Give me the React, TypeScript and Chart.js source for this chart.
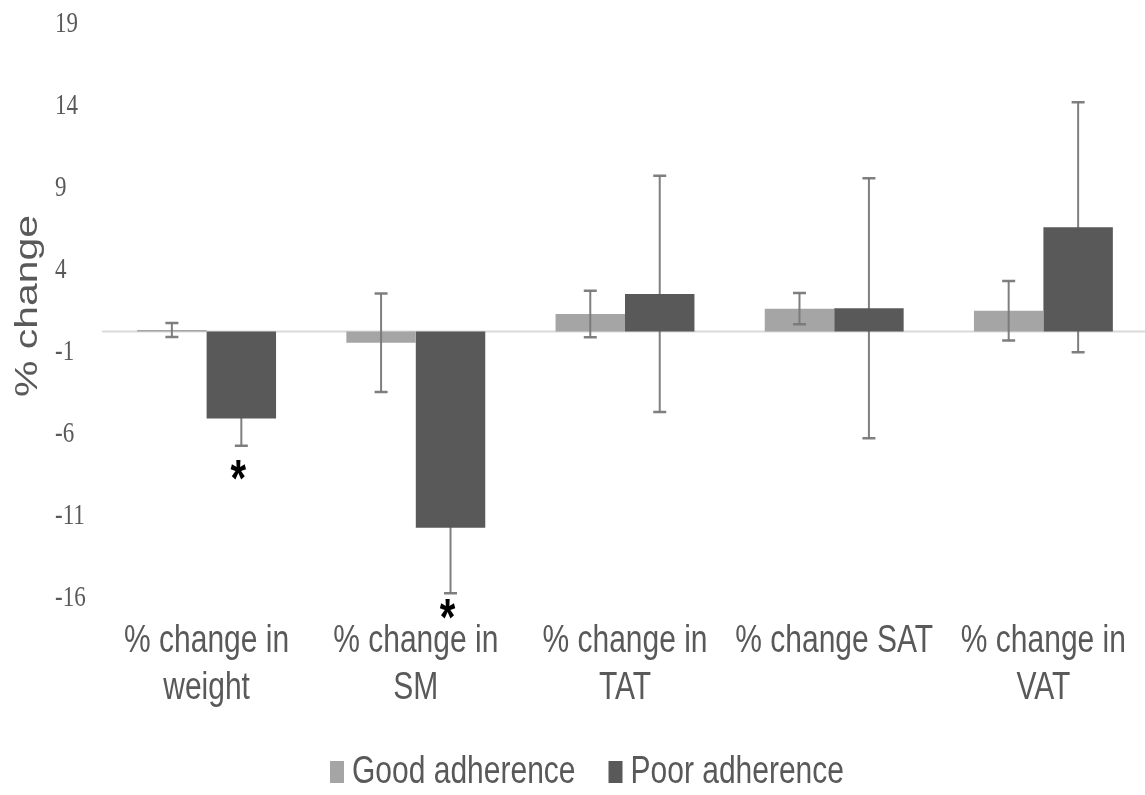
import { useEffect, useRef } from "react";
import { Chart, registerables } from "chart.js";

Chart.register(...registerables);

// Category labels (split into the lines they are drawn on)
const categories: string[][] = [
  ["% change in", "weight"],
  ["% change in", "SM"],
  ["% change in", "TAT"],
  ["% change SAT"],
  ["% change in", "VAT"],
];

// Mean % change per group
const goodAdherence = [0.1, -0.68, 1.07, 1.4, 1.27];
const poorAdherence = [-5.3, -11.96, 2.3, 1.42, 6.36];

// Error bar half-lengths
const goodError = [0.43, 3.0, 1.42, 0.95, 1.82];
const poorError = [1.66, 4.0, 7.2, 7.93, 7.62];

// Y axis tick values
const yTicks = [-16, -11, -6, -1, 4, 9, 14, 19];

// Significance markers (category index, value at which the * sits)
const significance = [
  { index: 0, value: -8.45 },
  { index: 1, value: -16.9 },
];

const seriesNames = ["Good adherence", "Poor adherence"];
const seriesColors = ["#a5a5a5", "#595959"];
const errorSets = [goodError, poorError];

const TEXT = "#595959";
const SY = 1.28; // vertical stretch of the lettering

function drawText(
  ctx: CanvasRenderingContext2D,
  text: string,
  x: number,
  y: number,
  align: CanvasTextAlign
) {
  ctx.save();
  ctx.translate(x, y);
  ctx.scale(1, SY);
  ctx.textAlign = align;
  ctx.textBaseline = "alphabetic";
  ctx.fillText(text, 0, 0);
  ctx.restore();
}

function drawErrorBars(chart: any, di: number) {
  const { ctx, scales } = chart;
  const yS = scales.y;
  const ds = chart.data.datasets[di];
  const meta = chart.getDatasetMeta(di);
  ctx.save();
  ctx.strokeStyle = "rgba(120,120,120,0.95)";
  meta.data.forEach((bar: any, i: number) => {
    const v = ds.data[i];
    const e = errorSets[di][i];
    const x = bar.x;
    const yt = yS.getPixelForValue(v + e);
    const yb = yS.getPixelForValue(v - e);
    ctx.lineWidth = 2;
    ctx.beginPath();
    ctx.moveTo(x, yt);
    ctx.lineTo(x, yb);
    ctx.stroke();
    ctx.lineWidth = 2.5;
    ctx.beginPath();
    ctx.moveTo(x - 6.5, yt);
    ctx.lineTo(x + 6.5, yt);
    ctx.moveTo(x - 6.5, yb);
    ctx.lineTo(x + 6.5, yb);
    ctx.stroke();
  });
  ctx.restore();
}

const decorations = {
  id: "decorations",
  beforeDatasetsDraw(chart: any) {
    const { ctx, chartArea, scales } = chart;
    const y0 = scales.y.getPixelForValue(0);
    ctx.save();
    ctx.strokeStyle = "#d9d9d9";
    ctx.lineWidth = 2;
    ctx.beginPath();
    ctx.moveTo(chartArea.left, y0);
    ctx.lineTo(chartArea.right, y0);
    ctx.stroke();
    ctx.restore();
    // poor-adherence error bars sit behind their bars
    drawErrorBars(chart, 1);
  },
  afterDatasetsDraw(chart: any) {
    drawErrorBars(chart, 0);
  },
  afterDraw(chart: any) {
    const { ctx, chartArea, scales } = chart;
    const yS = scales.y;
    const xS = scales.x;
    ctx.save();
    ctx.fillStyle = TEXT;

    // y tick labels
    ctx.font = "23px 'Liberation Serif'";
    yTicks.forEach((t) => {
      drawText(ctx, String(t), 55, yS.getPixelForValue(t) + 11.5, "left");
    });

    // category labels
    ctx.font = "30px 'Liberation Sans'";
    categories.forEach((lines, i) => {
      const x = xS.getPixelForValue(i);
      lines.forEach((line, li) => {
        drawText(ctx, line, x, chartArea.bottom + 58 + li * 47, "center");
      });
    });

    // y axis title
    ctx.save();
    ctx.font = "32px 'Liberation Sans'";
    ctx.translate(37, 306);
    ctx.scale(1, SY);
    ctx.rotate(-Math.PI / 2);
    ctx.textAlign = "center";
    ctx.textBaseline = "alphabetic";
    ctx.fillText("% change", 0, 0);
    ctx.restore();

    // significance asterisks
    ctx.fillStyle = "#000000";
    ctx.font = "bold 40px 'Liberation Sans'";
    const poorMeta = chart.getDatasetMeta(1);
    significance.forEach((s) => {
      const x = poorMeta.data[s.index].x - 3;
      const y = yS.getPixelForValue(s.value);
      drawText(ctx, "*", x, y + 26, "center");
    });

    // legend
    ctx.font = "30px 'Liberation Sans'";
    let lx = 330;
    const baseY = 783;
    seriesNames.forEach((name, i) => {
      ctx.fillStyle = seriesColors[i];
      ctx.fillRect(lx, baseY - 22, 14, 22);
      lx += 22;
      ctx.fillStyle = TEXT;
      drawText(ctx, name, lx, baseY, "left");
      lx += ctx.measureText(name).width + 33;
    });

    ctx.restore();
  },
};

export default function App() {
  const ref = useRef<HTMLCanvasElement | null>(null);

  useEffect(() => {
    if (!ref.current) return;
    const chart = new Chart(ref.current, {
      type: "bar",
      data: {
        labels: categories.map((c) => c.join(" ")),
        datasets: [
          {
            label: seriesNames[0],
            data: goodAdherence,
            backgroundColor: seriesColors[0],
            categoryPercentage: 0.664,
            barPercentage: 1.0,
          },
          {
            label: seriesNames[1],
            data: poorAdherence,
            backgroundColor: seriesColors[1],
            categoryPercentage: 0.664,
            barPercentage: 1.0,
          },
        ],
      },
      options: {
        animation: false,
        responsive: false,
        devicePixelRatio: 1,
        layout: { padding: { left: 102, right: 0, top: 20, bottom: 201 } },
        plugins: {
          legend: { display: false },
          tooltip: { enabled: false },
        },
        scales: {
          x: { display: false },
          y: { display: false, min: -16, max: 19 },
        },
      },
      plugins: [decorations],
    });
    return () => chart.destroy();
  }, []);

  return (
    <div
      style={{
        position: "fixed",
        left: 0,
        top: 0,
        width: 1145,
        height: 795,
        overflow: "hidden",
        background: "#ffffff",
      }}
    >
      <canvas ref={ref} width={1148} height={795} />
    </div>
  );
}
